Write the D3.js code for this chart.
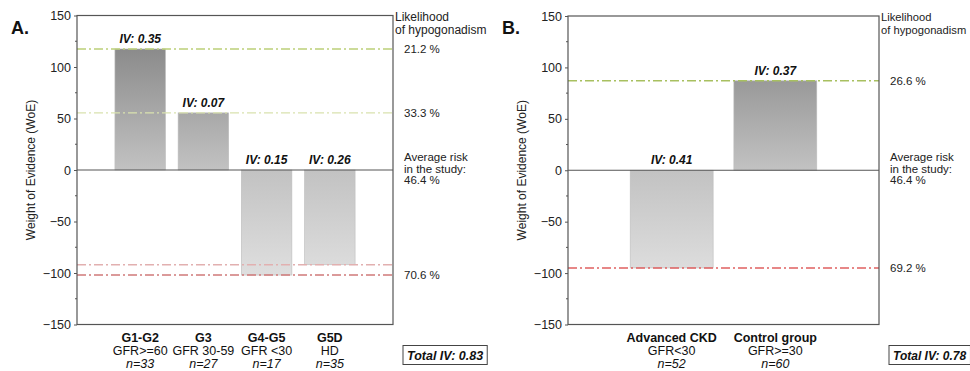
<!DOCTYPE html>
<html><head><meta charset="utf-8">
<script src="https://cdn.jsdelivr.net/npm/d3@7"></script>
<style>body{margin:0;background:#fff;}svg{display:block;font-family:"Liberation Sans",Arial,sans-serif;}</style>
</head><body>
<svg id="c" width="970" height="371"></svg>
<script>
// Panel A data
const catsA = ["G1-G2","G3","G4-G5","G5D"];
const subA = ["GFR>=60","GFR 30-59","GFR <30","HD"];
const nA = ["n=33","n=27","n=17","n=35"];
const woeA = [117.5, 55.5, -102, -92];
const ivA = ["IV: 0.35","IV: 0.07","IV: 0.15","IV: 0.26"];
const likeA = ["21.2 %","33.3 %","70.6 %"];
const likeValA = [117.5, 55.5, -102];
const totalA = "Total IV: 0.83";
// Panel B data
const catsB = ["Advanced CKD","Control group"];
const subB = ["GFR<30","GFR>=30"];
const nB = ["n=52","n=60"];
const woeB = [-95, 87];
const ivB = ["IV: 0.41","IV: 0.37"];
const likeB = ["26.6 %","69.2 %"];
const likeValB = [87, -95];
const totalB = "Total IV: 0.78";
const yTicks = [150,100,50,0,-50,-100,-150];

const svg = d3.select("#c");
const defs = svg.append("defs");

function panel(o){
  const {x0,x1,y0,y1,cats,sub,ns,woe,iv,likeTxt,likeVal,total,letter,lineExtra,id,headFs,totFs} = o;
  const g = svg.append("g");
  const y = d3.scaleLinear().domain([-150,150]).range([y1,y0]);
  const n = cats.length;
  const step = (x1-x0)/(n+1);
  const x = d3.scaleBand().domain(cats).range([x0+step/2, x1-step/2]).paddingInner(0.2).paddingOuter(0.1);
  const gr = defs.append("linearGradient").attr("id","gr"+id).attr("gradientUnits","userSpaceOnUse")
    .attr("x1",0).attr("x2",0).attr("y1",y(150)).attr("y2",y(-150));
  gr.append("stop").attr("offset","0%").attr("stop-color","#7c7c7c");
  gr.append("stop").attr("offset","50%").attr("stop-color","#c2c2c2");
  gr.append("stop").attr("offset","100%").attr("stop-color","#ececec");
  g.selectAll("rect.bar").data(woe).join("rect").attr("class","bar")
    .attr("x",(d,i)=>x(cats[i])).attr("width",x.bandwidth())
    .attr("y",d=>y(Math.max(0,d))).attr("height",d=>Math.abs(y(d)-y(0)))
    .attr("fill","url(#gr"+id+")").attr("stroke","#bdbdbd").attr("stroke-width",0.6);
  lineExtra.forEach(l=>{
    g.append("line").attr("x1",x0).attr("x2",x1).attr("y1",y(l.v)).attr("y2",y(l.v))
      .attr("stroke",l.c).attr("stroke-width",1.4).attr("stroke-dasharray","9,3,2,3");
  });
  g.append("line").attr("x1",x0).attr("x2",x1).attr("y1",y(0)).attr("y2",y(0)).attr("stroke","#555").attr("stroke-width",1);
  g.append("rect").attr("x",x0).attr("y",y0).attr("width",x1-x0).attr("height",y1-y0)
    .attr("fill","none").attr("stroke","#555").attr("stroke-width",1.2);
  const ax = g.append("g").attr("transform",`translate(${x0},0)`)
    .call(d3.axisLeft(y).tickValues(yTicks).tickSize(3).tickPadding(3).tickFormat(d3.format("d")));
  ax.select(".domain").remove();
  ax.selectAll("line").attr("stroke","#555");
  ax.selectAll("text").attr("font-size",12.5).attr("fill","#222");
  const minor = d3.range(-125,150,50);
  g.selectAll("line.mn").data(minor).join("line").attr("class","mn")
    .attr("x1",x0).attr("x2",x0-2).attr("y1",d=>y(d)).attr("y2",d=>y(d)).attr("stroke","#555");
  g.selectAll("text.iv").data(woe).join("text").attr("class","iv")
    .attr("x",(d,i)=>x(cats[i])+x.bandwidth()/2).attr("y",d=>y(Math.max(0,d))-6)
    .attr("text-anchor","middle").attr("font-size",12).attr("font-weight","bold").attr("font-style","italic")
    .attr("fill","#111").text((d,i)=>iv[i]);
  cats.forEach((c,i)=>{
    const cx = x(c)+x.bandwidth()/2;
    g.append("text").attr("x",cx).attr("y",y1+17).attr("text-anchor","middle").attr("font-size",12.5).attr("font-weight","bold").attr("fill","#111").text(c);
    g.append("text").attr("x",cx).attr("y",y1+30).attr("text-anchor","middle").attr("font-size",12.5).attr("fill","#111").text(sub[i]);
    g.append("text").attr("x",cx).attr("y",y1+43).attr("text-anchor","middle").attr("font-size",12.5).attr("font-style","italic").attr("fill","#111").text(ns[i]);
  });
  g.append("text").attr("transform",`translate(${x0-42},${y(0)}) rotate(-90)`).attr("text-anchor","middle")
    .attr("font-size",12).attr("fill","#222").text("Weight of Evidence (WoE)");
  g.append("text").attr("x",x0-66).attr("y",y0+18).attr("font-size",18).attr("font-weight","bold").attr("fill","#111").text(letter);
  g.append("text").attr("x",x1+2).attr("y",y0+5).attr("font-size",headFs).attr("fill","#222").text("Likelihood");
  g.append("text").attr("x",x1+2).attr("y",y0+18).attr("font-size",headFs).attr("fill","#222").text("of hypogonadism");
  likeTxt.forEach((t,i)=>{
    g.append("text").attr("x",x1+11).attr("y",y(likeVal[i])+4).attr("font-size",11.5).attr("fill","#222").text(t);
  });
  ["Average risk","in the study:","46.4 %"].forEach((t,i)=>{
    g.append("text").attr("x",x1+11).attr("y",y(0)-9+i*11.5).attr("font-size",11.5).attr("fill","#222").text(t);
  });
  const tb = g.append("g");
  const tt = tb.append("text").attr("x",x1+14).attr("y",y1+35).attr("font-size",totFs).attr("font-weight","bold").attr("font-style","italic").attr("fill","#111").text(total);
  const bb = tt.node().getBBox();
  tb.insert("rect","text").attr("x",bb.x-4).attr("y",y1+21).attr("width",bb.width+8).attr("height",19)
    .attr("fill","#fff").attr("stroke","#444").attr("stroke-width",1);
}

panel({id:"A",x0:77,x1:393,y0:15.5,y1:324.5,cats:catsA,sub:subA,ns:nA,woe:woeA,iv:ivA,
  likeTxt:likeA,likeVal:likeValA,total:totalA,letter:"A.",headFs:12,totFs:12.5,
  lineExtra:[{v:likeValA[0],c:"#bccf78"},{v:likeValA[1],c:"#d9e2ae"},{v:woeA[3],c:"#e2b0b0"},{v:likeValA[2],c:"#cf7a7a"}]});
panel({id:"B",x0:568,x1:879,y0:16,y1:324.5,cats:catsB,sub:subB,ns:nB,woe:woeB,iv:ivB,
  likeTxt:likeB,likeVal:likeValB,total:totalB,letter:"B.",headFs:11.2,totFs:12,
  lineExtra:[{v:likeValB[0],c:"#a8c060"},{v:likeValB[1],c:"#e06060"}]});
</script>
</body></html>
